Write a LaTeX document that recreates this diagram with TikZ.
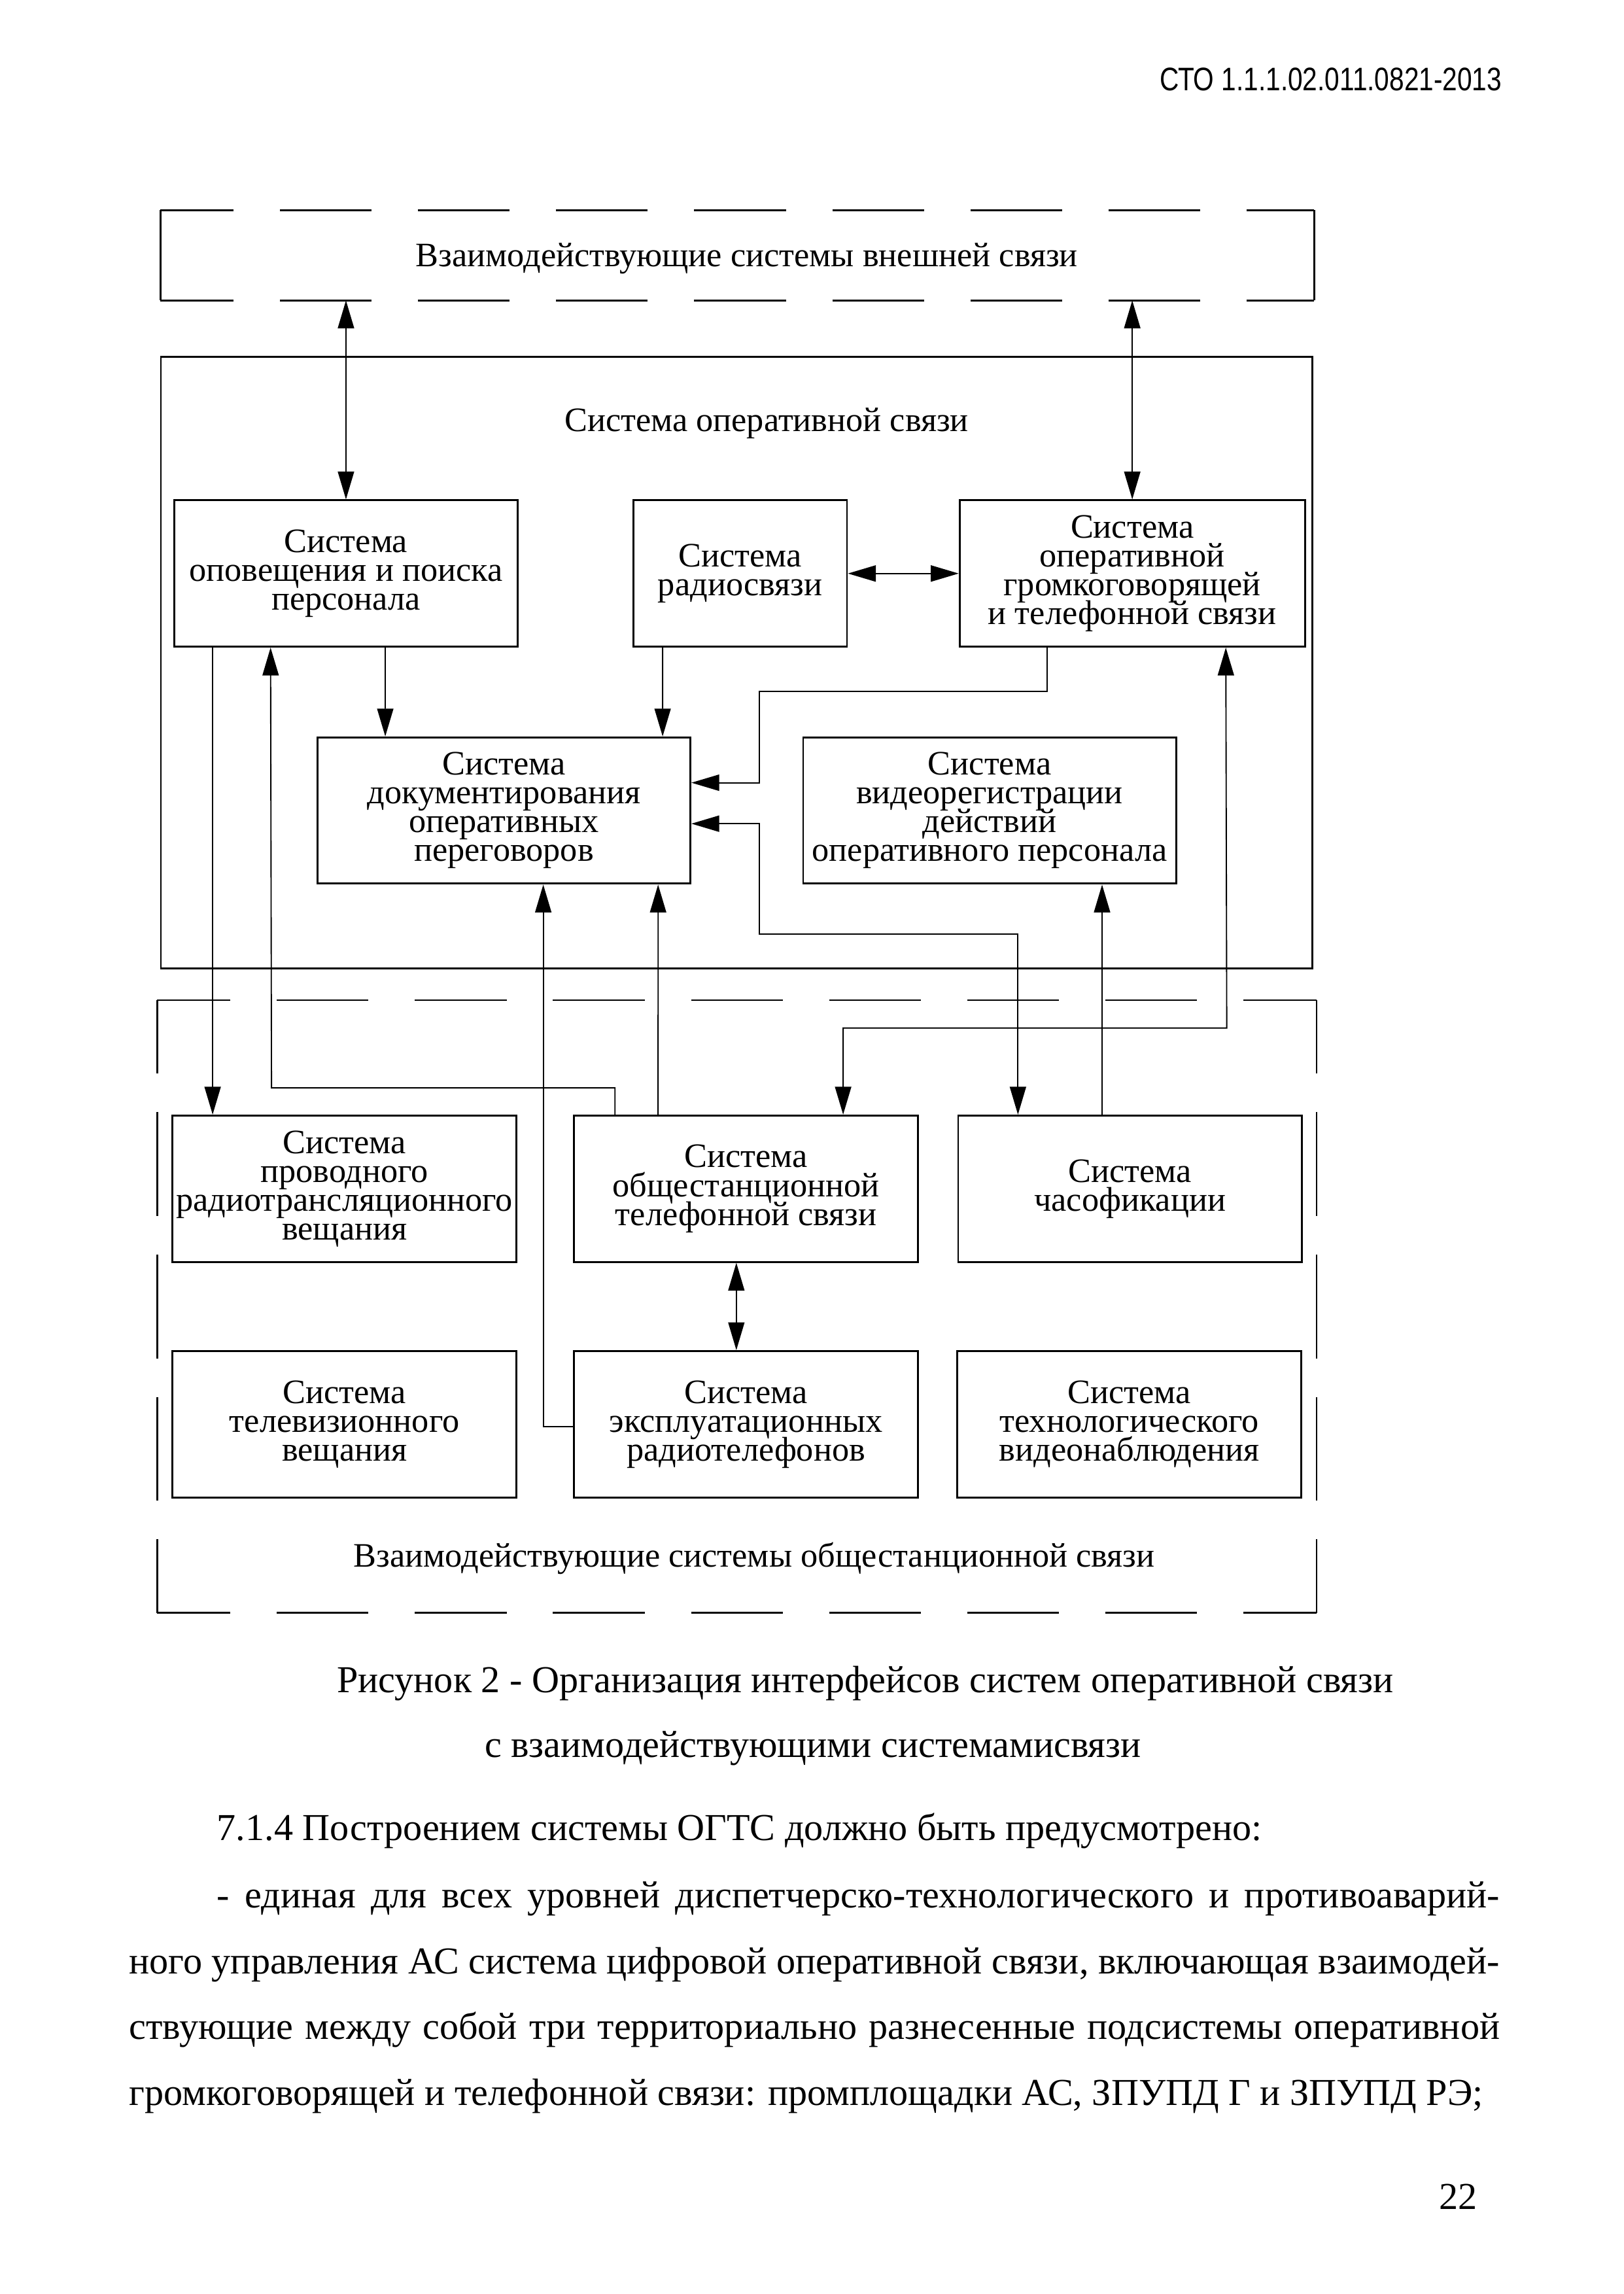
\documentclass[tikz,border=0pt]{standalone}
\usepackage{fontspec}
\setmainfont{Liberation Serif}
\newfontfamily\hdrfont[FakeStretch=0.815]{Liberation Sans}
\usetikzlibrary{arrows.meta,calc}

% tight, fixed line pitch inside the boxes
\newcommand{\sysfont}{\fontsize{12.6}{10.6}\selectfont\lineskiplimit=-20pt\relax}

\begin{document}
\begin{tikzpicture}[
    x=0.0189189cm, y=-0.0189189cm,
    sysbox/.style={draw, line width=0.7pt, align=center, inner sep=0pt,
                   minimum height=1.892cm, font=\sysfont},
    opsframe/.style={line width=0.7pt},
    dashh/.style={line width=0.7pt, dash pattern=on 1.186cm off 0.6cm, dash phase=0.24cm},
    dashv/.style={line width=0.7pt, dash pattern=on 1.343cm off 0.5cm, dash phase=0.397cm},
    link/.style={line width=0.45pt, -{Triangle[length=3.6mm,width=2.1mm]}},
    duplex/.style={line width=0.45pt,
                   {Triangle[length=3.6mm,width=2.1mm]}-{Triangle[length=3.6mm,width=2.1mm]}},
    lbl/.style={font=\fontsize{12.6}{14}\selectfont, anchor=base, inner sep=0pt},
    body/.style={font=\fontsize{14}{16}\selectfont, anchor=base west, inner sep=0pt}
]

\path[use as bounding box, fill=white] (0,0) rectangle (1110,1568);

% ---------- page head ----------
\node[anchor=base east, inner sep=0pt, font=\hdrfont\fontsize{12}{14}\selectfont]
  (hdr) at (1027,62) {СТО 1.1.1.02.011.0821-2013};

% ---------- external systems ----------
\node[minimum width=14.908cm, minimum height=1.154cm, inner sep=0pt] (ext) at (504,174.5) {};
\draw[dashh] (ext.north west) -- (ext.north east);
\draw[dashh] (ext.south west) -- (ext.south east);
\draw[opsframe] (ext.north west) -- (ext.south west) (ext.north east) -- (ext.south east);
\node[lbl] (extlbl) at (510.5,182) {Взаимодействующие системы внешней связи};

% ---------- operative communication system ----------
\draw[opsframe] (110,244) rectangle (897,662);
\node[lbl] (opslbl) at (524,295) {Система оперативной связи};

\node[sysbox, minimum width=4.446cm] (opov) at (236.5,392) {Система\\оповещения и поиска\\персонала};
\node[sysbox, minimum width=2.762cm] (radio) at (506,392) {Система\\радиосвязи};
\node[sysbox, minimum width=4.465cm] (ogts) at (774,392) {Система\\оперативной\\громкоговорящей\\и телефонной связи};
\node[sysbox, minimum width=4.824cm] (doc) at (344.5,554) {Система\\документирования\\оперативных\\переговоров};
\node[sysbox, minimum width=4.824cm] (video) at (676.5,554) {Система\\видеорегистрации\\действий\\оперативного персонала};

% ---------- station-wide systems ----------
\draw[dashh] (107.5,683.6) -- (900,683.6);
\draw[dashh] (107.5,1102.5) -- (900,1102.5);
\draw[dashv] (107.5,683.6) -- (107.5,1102.5);
\draw[dashv] (900,683.6) -- (900,1102.5);
\node[lbl] (genlbl) at (515.6,1071) {Взаимодействующие системы общестанционной связи};

\node[sysbox, minimum width=4.446cm] (provod) at (235.5,812.5) {Система\\проводного\\радиотрансляционного\\вещания};
\node[sysbox, minimum width=4.446cm] (obshch) at (510,812.5) {Система\\общестанционной\\телефонной связи};
\node[sysbox, minimum width=4.446cm] (chas) at (772.5,812.5) {Система\\часофикации};
\node[sysbox, minimum width=4.446cm] (tv) at (235.5,973.5) {Система\\телевизионного\\вещания};
\node[sysbox, minimum width=4.446cm] (ekspl) at (510,973.5) {Система\\эксплуатационных\\радиотелефонов};
\node[sysbox, minimum width=4.446cm] (techn) at (772,973.5) {Система\\технологического\\видеонаблюдения};

% ---------- links ----------
\draw[duplex] (opov.north |- ext.south) -- (opov.north);
\draw[duplex] (ogts.north |- ext.south) -- (ogts.north);
\draw[duplex] (radio.east) -- (ogts.west);
\draw[link] ($(opov.south west)+(145,0)$) -- ($(doc.north west)+(47,0)$);
\draw[link] ($(radio.south west)+(20.6,0)$) -- ($(doc.north west)+(236.6,0)$);
\draw[link] ($(ogts.south west)+(60.5,0)$) |- (519,472.7) |- ($(doc.east)+(0,-19)$);
\draw[duplex] ($(doc.east)+(0,9)$) -| (519,638.5) -| ($(chas.north west)+(41.5,0)$);
\draw[link] ($(chas.north west)+(99,0)$) -- ($(video.south west)+(205,0)$);
\draw[duplex] ($(obshch.north west)+(184.5,0)$) |- (838.6,702.7) -- ($(ogts.south west)+(182.6,0)$);
\draw[link] ($(obshch.north west)+(28.5,0)$) |- (185.6,743.6) -- ($(opov.south west)+(66.6,0)$);
\draw[link] ($(obshch.north west)+(58,0)$) -- ($(doc.south west)+(233.5,0)$);
\draw[link] ($(ekspl.west)+(0,1.5)$) -| ($(doc.south west)+(155,0)$);
\draw[link] ($(opov.south west)+(27,0)$) -- ($(provod.north west)+(28,0)$);
\draw[duplex] ($(obshch.south west)+(111.5,0)$) -- ($(ekspl.north west)+(111.5,0)$);

% ---------- caption and text ----------
\node[body] (cap1) at (230,1157) {Рисунок 2 - Организация интерфейсов систем оперативной связи};
\node[body] (cap2) at (331,1201) {с взаимодействующими системамисвязи};
\node[body] (par1) at (148,1258) {7.1.4 Построением системы ОГТС должно быть предусмотрено:};
\node[body] (par2) at (148,1304) {\makebox[16.592cm][s]{- единая для всех уровней диспетчерско-технологического и противоаварий-}};
\node[body] (par3) at (88,1349) {\makebox[17.727cm][s]{ного управления АС система цифровой оперативной связи, включающая взаимодей-}};
\node[body] (par4) at (88,1394) {\makebox[17.727cm][s]{ствующие между собой три территориально разнесенные подсистемы оперативной}};
\node[body] (par5) at (88,1439) {громкоговорящей и телефонной связи: промплощадки АС, ЗПУПД Г и ЗПУПД РЭ;};
\node[body, anchor=base east] (pagenum) at (1010,1510) {22};

\end{tikzpicture}
\end{document}
